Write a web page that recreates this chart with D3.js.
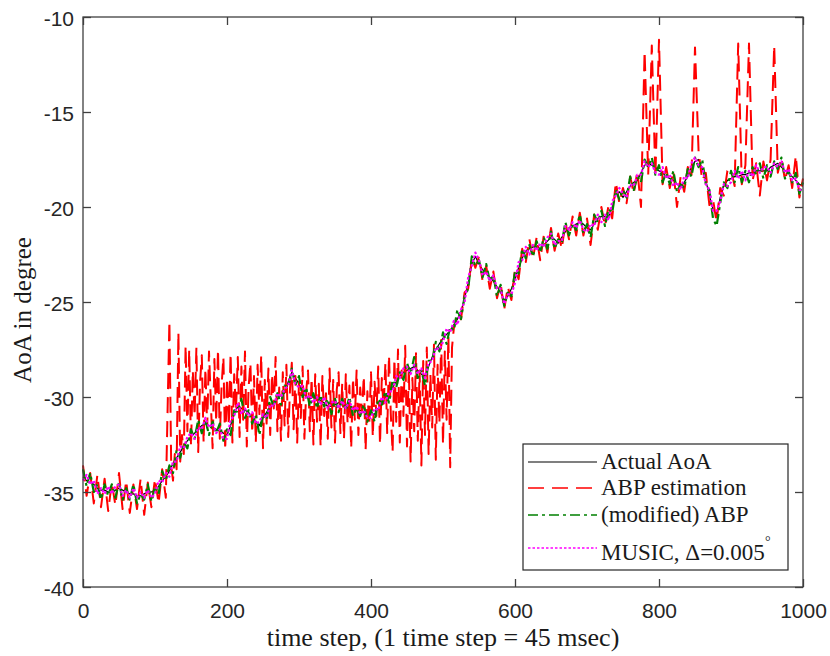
<!DOCTYPE html>
<html>
<head>
<meta charset="utf-8">
<script src="https://cdn.jsdelivr.net/npm/d3@7"></script>
<style>
	body { margin: 0; background: #fff; }
	svg { display: block; }
	.axis .tick text { font-family: 'Liberation Sans', Arial, sans-serif; font-size: 21px; fill: #262626; }
	.axis .tick line { stroke: #404040; stroke-width: 1.3; }
	.axis path.domain { display: none; }
	.title, .legend text { font-family: 'Liberation Serif', 'Times New Roman', serif; fill: #1a1a1a; }
</style>
</head>
<body>
<svg id="chart"></svg>
<script>
// most series are sampled every 5 time steps, t = 0 .. 1000
const TIME_STEP = 5;
const xTicks = [0, 200, 400, 600, 800, 1000];
const yTicks = [-40, -35, -30, -25, -20, -15, -10];

const actualAoA = [
	-34.2, -34.4, -34.5, -34.6, -34.8, -34.9, -34.9, -35.0, -35.0, -34.9,
	-34.8, -34.9, -35.0, -35.1, -35.1, -35.2, -35.2, -35.1, -35.0, -35.0,
	-34.9, -34.7, -34.4, -34.2, -33.9, -33.5, -33.2, -32.9, -32.6, -32.3,
	-32.1, -31.9, -31.7, -31.5, -31.4, -31.5, -31.6, -31.7, -31.8, -31.9,
	-32.0, -31.5, -30.9, -30.5, -30.6, -30.7, -30.8, -31.1, -31.3, -31.5,
	-31.1, -30.8, -30.5, -30.3, -30.1, -29.9, -29.8, -29.2, -28.7, -29.0,
	-29.3, -29.7, -30.0, -30.1, -30.0, -30.1, -30.2, -30.3, -30.5, -30.5,
	-30.4, -30.3, -30.3, -30.4, -30.5, -30.6, -30.7, -30.7, -30.8, -30.8,
	-30.9, -30.9, -30.6, -30.2, -30.0, -29.8, -29.5, -29.2, -28.9, -28.7,
	-28.6, -28.5, -28.4, -28.6, -28.8, -28.9, -28.4, -27.9, -27.5, -27.2,
	-26.9, -26.7, -26.5, -26.2, -25.9, -25.5, -24.8, -24.0, -23.0, -22.6,
	-23.0, -23.3, -23.5, -23.7, -23.9, -24.2, -24.5, -24.9, -24.7, -24.3,
	-23.8, -23.2, -22.7, -22.3, -22.2, -22.1, -22.1, -22.2, -22.0, -21.8,
	-21.6, -21.7, -21.9, -21.6, -21.3, -21.1, -21.0, -20.9, -20.8, -20.9,
	-21.1, -21.2, -20.9, -20.6, -20.5, -20.5, -20.5, -20.0, -19.3, -19.2,
	-19.5, -19.2, -18.9, -18.7, -18.6, -18.2, -17.8, -17.7, -17.8, -17.9,
	-18.1, -18.2, -18.4, -18.5, -18.6, -18.8, -18.9, -18.7, -18.4, -17.9,
	-17.6, -17.5, -18.0, -18.6, -19.4, -20.1, -20.4, -19.5, -18.9, -18.6,
	-18.5, -18.4, -18.4, -18.3, -18.3, -18.2, -18.2, -18.1, -18.1, -18.1,
	-18.1, -17.9, -17.8, -17.7, -17.9, -18.1, -18.2, -18.4, -18.6, -18.8,
	-18.9
];

// ABP estimation: t = 0 .. 115 (step 5)
const abpEarly = [
	-33.6, -35.2, -34.0, -35.6, -34.1, -35.8, -34.3, -36.0, -34.5, -35.7,
	-34.0, -35.9, -34.4, -36.1, -34.6, -35.9, -34.3, -36.2, -34.5, -35.8,
	-34.3, -35.6, -33.8, -35.3
];

// ABP estimation: t = 120 .. 517.5 (step 2.5), the noisy stretch
const ABP_NOISY_START = 120;
const ABP_NOISY_STEP = 2.5;
const abpNoisy = [
	-26.0, -33.6, -34.4, -33.0, -33.8, -26.6, -33.4, -32.0, -33.0, -27.3,
	-31.8, -27.5, -32.6, -28.6, -31.0, -27.4, -32.9, -29.3, -27.8, -32.4,
	-28.5, -31.6, -27.6, -30.2, -32.7, -28.0, -31.3, -27.5, -32.2, -29.4,
	-27.9, -32.8, -29.0, -31.5, -27.7, -32.4, -28.8, -30.7, -27.9, -32.1,
	-28.4, -31.2, -27.6, -32.6, -29.5, -28.2, -31.9, -28.9, -32.4, -28.3,
	-30.9, -27.8, -32.7, -29.1, -31.4, -28.5, -32.0, -28.8, -30.6, -27.9,
	-31.8, -29.5, -32.3, -28.7, -31.5, -28.3, -32.1, -29.6, -28.2, -31.7,
	-28.9, -32.4, -29.2, -31.1, -28.4, -32.2, -29.7, -28.6, -31.8, -29.0,
	-32.5, -28.8, -31.3, -29.3, -32.6, -28.9, -31.0, -29.8, -32.2, -28.5,
	-31.6, -29.1, -32.4, -29.6, -28.7, -31.9, -29.3, -32.2, -28.8, -31.4,
	-29.4, -32.7, -29.0, -31.2, -28.6, -32.0, -29.5, -30.8, -28.9, -32.8,
	-29.7, -31.5, -28.7, -32.1, -29.2, -31.0, -28.4, -32.5, -29.0, -30.6,
	-28.2, -31.9, -27.8, -30.9, -32.9, -28.0, -31.3, -27.5, -32.4, -28.6,
	-31.0, -27.3, -32.6, -28.4, -33.4, -29.0, -31.8, -27.7, -32.3, -28.6,
	-33.6, -28.1, -32.0, -27.4, -33.0, -28.8, -31.6, -27.2, -33.3, -28.3,
	-31.4, -27.0, -32.5, -27.6, -31.2, -26.8, -33.7, -27.4, -26.4, -26.0
];

// ABP estimation: t = 520 .. 1000 (step 5)
const ABP_LATE_START = 520;
const abpLate = [
	-25.6, -25.9, -24.5, -24.3, -22.7, -23.2,
	-22.6, -23.9, -23.1, -24.3, -23.4, -24.8, -24.0, -25.4, -24.2, -24.9,
	-23.3, -23.8, -22.2, -22.9, -21.7, -22.7, -21.6, -22.8, -21.5, -22.4,
	-21.1, -22.3, -21.4, -22.2, -20.8, -21.7, -20.5, -21.5, -20.3, -21.5,
	-20.6, -22.0, -20.4, -21.2, -20.0, -21.0, -19.9, -20.6, -18.7, -19.8,
	-19.0, -19.8, -18.4, -19.3, -18.1, -20.0, -11.8, -18.3, -11.5, -18.4,
	-11.2, -18.8, -17.9, -19.0, -18.1, -20.0, -18.4, -19.2, -17.9, -18.5,
	-11.6, -17.1, -18.6, -18.2, -19.9, -19.6, -20.8, -19.0, -19.4, -18.1,
	-18.0, -18.9, -11.4, -18.8, -17.8, -11.4, -18.6, -17.7, -19.4, -17.6,
	-18.6, -17.5, -11.5, -18.2, -17.4, -18.6, -17.8, -19.0, -17.3, -19.5,
	-18.5
];

const modifiedAbp = [
	-33.8, -34.7, -34.0, -35.0, -34.6, -35.4, -34.6, -35.2, -34.6, -35.3,
	-34.5, -35.4, -34.8, -35.4, -34.6, -35.6, -35.1, -35.4, -34.6, -35.5,
	-34.7, -35.1, -33.9, -34.4, -33.6, -34.0, -32.8, -33.2, -32.4, -32.7,
	-31.7, -32.2, -31.2, -31.9, -31.2, -32.0, -31.3, -31.9, -31.4, -32.3,
	-31.7, -32.0, -30.7, -30.8, -30.1, -31.1, -30.7, -31.4, -30.9, -32.0,
	-30.9, -31.2, -30.0, -30.5, -29.8, -30.4, -29.4, -29.5, -28.5, -29.4,
	-28.9, -30.0, -29.5, -30.5, -29.8, -30.6, -29.9, -30.5, -30.1, -30.9,
	-30.1, -30.8, -30.1, -30.7, -30.0, -31.0, -30.6, -31.0, -30.4, -31.3,
	-30.7, -31.3, -30.1, -30.4, -29.7, -30.3, -29.1, -29.5, -28.7, -29.1,
	-28.2, -28.8, -27.9, -29.0, -28.6, -29.4, -28.1, -28.1, -27.1, -27.6,
	-26.6, -27.2, -26.3, -26.5, -25.4, -25.9, -24.7, -24.3, -22.6, -23.1,
	-22.8, -23.7, -23.0, -23.9, -23.6, -24.7, -24.1, -25.2, -24.5, -24.7,
	-23.4, -23.5, -22.2, -22.7, -22.0, -22.6, -21.8, -22.4, -21.6, -22.2,
	-21.3, -22.2, -21.7, -21.9, -20.8, -21.5, -20.9, -21.2, -20.4, -21.4,
	-20.9, -21.6, -20.4, -20.8, -20.2, -21.0, -20.1, -20.3, -19.1, -19.6,
	-19.1, -19.5, -18.4, -19.1, -18.4, -18.7, -17.5, -17.9, -17.4, -18.3,
	-17.8, -18.7, -18.2, -18.8, -18.1, -19.2, -18.8, -19.0, -18.0, -18.4,
	-17.4, -17.9, -17.5, -18.8, -19.1, -20.6, -21.0, -19.8, -18.7, -19.0,
	-18.1, -18.7, -17.9, -18.7, -18.1, -18.7, -17.9, -18.3, -17.7, -18.5,
	-17.8, -18.4, -17.6, -18.0, -17.4, -18.5, -18.1, -18.7, -18.2, -19.3,
	-18.7
];

const music = [
	-34.4, -34.1, -34.6, -34.4, -35.1, -34.8, -35.1, -34.7, -35.1, -34.7,
	-34.6, -35.2, -34.9, -35.3, -34.8, -35.3, -35.0, -35.3, -34.9, -35.3,
	-35.1, -34.4, -34.5, -34.0, -34.2, -33.4, -33.4, -32.6, -32.7, -32.1,
	-31.9, -32.2, -31.6, -31.7, -31.1, -31.6, -31.4, -31.9, -31.7, -32.2,
	-32.2, -31.2, -31.0, -30.3, -30.9, -30.6, -31.0, -30.8, -31.4, -31.3,
	-30.9, -31.1, -30.4, -30.5, -29.8, -30.0, -29.6, -29.4, -28.6, -29.3,
	-29.5, -29.4, -30.1, -29.9, -30.3, -30.0, -30.4, -30.0, -30.6, -30.3,
	-30.2, -30.6, -30.2, -30.6, -30.2, -30.7, -30.5, -30.9, -30.7, -31.1,
	-31.1, -30.6, -30.7, -30.0, -30.3, -29.7, -29.7, -28.9, -29.0, -28.5,
	-28.4, -28.8, -28.3, -28.8, -28.5, -29.0, -28.2, -28.1, -27.4, -27.5,
	-27.1, -26.4, -26.6, -26.0, -26.2, -25.4, -25.0, -23.7, -23.1, -22.4,
	-22.8, -23.6, -23.4, -23.9, -23.6, -24.3, -24.3, -25.1, -24.6, -24.6,
	-24.0, -22.9, -22.8, -22.1, -22.5, -22.0, -22.3, -21.9, -22.1, -21.6,
	-21.4, -22.0, -21.8, -21.8, -21.0, -21.2, -20.8, -21.1, -20.7, -21.2,
	-21.3, -20.9, -21.0, -20.4, -20.8, -20.4, -20.7, -19.7, -19.4, -19.0,
	-19.3, -19.5, -18.8, -18.9, -18.3, -18.3, -17.6, -17.9, -17.7, -18.2,
	-18.3, -17.9, -18.5, -18.3, -18.9, -18.7, -19.1, -18.4, -18.5, -17.7,
	-17.4, -17.8, -17.9, -18.8, -19.1, -20.2, -20.2, -19.7, -18.8, -18.9,
	-18.7, -18.1, -18.5, -18.1, -18.6, -18.1, -18.4, -17.8, -18.2, -17.9,
	-17.9, -18.2, -17.7, -17.9, -17.6, -18.2, -18.0, -18.6, -18.5, -19.1,
	-19.1
];

const legendLabels = ['Actual AoA', 'ABP estimation', '(modified) ABP', 'MUSIC, \u0394=0.005'];

// dimension stuff
const WIDTH = 830;
const HEIGHT = 656;
const marginLeft = 83;
const marginTop = 17;
const plotW = 720;
const plotH = 570;
const TICK = 8;

// helper: turn a value list into {t, v} points
const toPoints = (values, start, step) => values.map((v, i) => ({ t: start + i * step, v }));

const abpPoints = [].concat(
	toPoints(abpEarly, 0, TIME_STEP),
	toPoints(abpNoisy, ABP_NOISY_START, ABP_NOISY_STEP),
	toPoints(abpLate, ABP_LATE_START, TIME_STEP)
);

const series = [
	{ key: 'actual', points: toPoints(actualAoA, 0, TIME_STEP), color: '#000000', width: 1.2, dash: null },
	{ key: 'abp', points: abpPoints, color: '#ff0000', width: 2, dash: '16,8' },
	{ key: 'modified', points: toPoints(modifiedAbp, 0, TIME_STEP), color: '#008000', width: 2.2, dash: '10,4,3,4' },
	{ key: 'music', points: toPoints(music, 0, TIME_STEP), color: '#ff00ff', width: 2.2, dash: '2.5,2' }
];

const $svg = d3.select('#chart').attr('width', WIDTH).attr('height', HEIGHT);

// scales
const scaleX = d3.scaleLinear().domain([0, 1000]).range([0, plotW]);
const scaleY = d3.scaleLinear().domain([-40, -10]).range([plotH, 0]);

const $g = $svg.append('g').attr('transform', `translate(${marginLeft}, ${marginTop})`);

// lines
const line = d3.line()
	.x(d => scaleX(d.t))
	.y(d => scaleY(d.v));

$g.append('g').attr('class', 'g-vis')
	.selectAll('path')
	.data(series)
	.join('path')
	.attr('d', d => line(d.points))
	.attr('fill', 'none')
	.attr('stroke', d => d.color)
	.attr('stroke-width', d => d.width)
	.attr('stroke-dasharray', d => d.dash)
	.attr('stroke-linejoin', 'round');

// axes, ticks pointing inward on all four sides
const fmt = d => String(d);
$g.append('g').attr('class', 'axis axis--x')
	.attr('transform', `translate(0, ${plotH})`)
	.call(d3.axisBottom(scaleX).tickValues(xTicks).tickSize(-TICK).tickPadding(16).tickFormat(fmt));
$g.append('g').attr('class', 'axis axis--top')
	.call(d3.axisTop(scaleX).tickValues(xTicks).tickSize(-TICK).tickFormat(''));
$g.append('g').attr('class', 'axis axis--y')
	.call(d3.axisLeft(scaleY).tickValues(yTicks).tickSize(-TICK).tickPadding(9).tickFormat(fmt));
$g.append('g').attr('class', 'axis axis--right')
	.attr('transform', `translate(${plotW}, 0)`)
	.call(d3.axisRight(scaleY).tickValues(yTicks).tickSize(-TICK).tickFormat(''));

$g.selectAll('.axis--y .tick text').attr('dy', '0.42em');

// box
$g.append('rect')
	.attr('width', plotW)
	.attr('height', plotH)
	.attr('fill', 'none')
	.attr('stroke', '#404040')
	.attr('stroke-width', 1.3);

// axis titles
$svg.append('text').attr('class', 'title')
	.attr('x', marginLeft + plotW / 2)
	.attr('y', 646)
	.attr('text-anchor', 'middle')
	.style('font-size', '26px')
	.text('time step, (1 time step = 45 msec)');

$svg.append('text').attr('class', 'title')
	.attr('transform', `translate(31, ${marginTop + plotH / 2 + 8}) rotate(-90)`)
	.attr('text-anchor', 'middle')
	.style('font-size', '25px')
	.text('AoA in degree');

// legend
const $legend = $svg.append('g').attr('class', 'legend').attr('transform', 'translate(523, 444)');
$legend.append('rect')
	.attr('width', 265)
	.attr('height', 126)
	.attr('fill', '#fff')
	.attr('stroke', '#262626')
	.attr('stroke-width', 1.2);

const rowY = [18, 44, 71, 104];

const $row = $legend.selectAll('g.row')
	.data(series)
	.join('g')
	.attr('class', 'row')
	.attr('transform', (d, i) => `translate(0, ${rowY[i]})`);

$row.append('line')
	.attr('x1', 5)
	.attr('x2', 74)
	.attr('stroke', d => d.color)
	.attr('stroke-width', d => Math.min(d.width, 1.6))
	.attr('stroke-dasharray', d => d.dash);

$row.append('text')
	.attr('x', 78)
	.attr('y', (d, i) => i === 3 ? 12 : 7)
	.style('font-size', '23px')
	.text((d, i) => legendLabels[i])
	.filter((d, i) => i === 3)
	.append('tspan')
	.attr('dy', -14)
	.style('font-size', '14px')
	.text('\u00b0');
</script>
</body>
</html>
